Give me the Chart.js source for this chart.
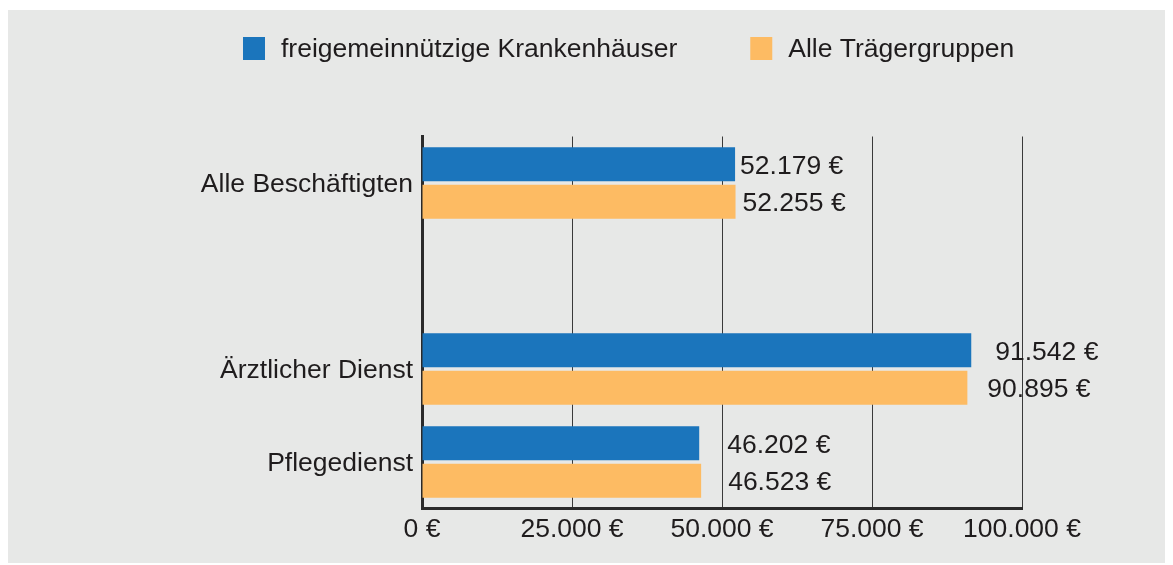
<!DOCTYPE html>
<html lang="de">
<head>
  <meta charset="UTF-8" />
  <title>Durchschnittliche Personalkosten</title>
  <script src="https://cdn.jsdelivr.net/npm/chart.js"></script>
  <style>
    body { margin: 0; background: #fff; }
    #wrap { position: absolute; left: 8px; top: 10px; width: 1157px; height: 553px; background: #e7e8e7; }
  </style>
</head>
<body>
  <div id="wrap">
    <canvas id="chart" width="1157" height="553"></canvas>
  </div>

  <script>
    // Kategorien (leere Kategorie erzeugt die Lücke nach "Alle Beschäftigten")
    const categories = ['Alle Beschäftigten', '', 'Ärztlicher Dienst', 'Pflegedienst'];
    const freigemeinnuetzig = [52179, null, 91542, 46202];
    const alleTraeger = [52255, null, 90895, 46523];
    const xTicks = [0, 25000, 50000, 75000, 100000];

    const textColor = '#1f1c1d';
    const font = 'Liberation Sans, Arial, sans-serif';
    const fontSize = 26.5;

    function euro(v) {
      return String(v).replace(/\B(?=(\d{3})+(?!\d))/g, '.') + ' €';
    }

    // Werte rechts neben den Balken
    const valueLabels = {
      id: 'valueLabels',
      afterDatasetsDraw(chart, args, opts) {
        const ctx = chart.ctx;
        ctx.save();
        ctx.font = fontSize + 'px ' + font;
        ctx.fillStyle = textColor;
        ctx.textAlign = 'left';
        ctx.textBaseline = 'middle';
        chart.data.datasets.forEach((ds, di) => {
          chart.getDatasetMeta(di).data.forEach((bar, i) => {
            const v = ds.data[i];
            if (v == null) return;
            ctx.fillText(euro(v), bar.x + opts.gaps[di][i], bar.y + 2);
          });
        });
        ctx.restore();
      }
    };

    // Legende oben
    const topLegend = {
      id: 'topLegend',
      afterDraw(chart) {
        const ctx = chart.ctx;
        ctx.save();
        ctx.font = fontSize + 'px ' + font;
        ctx.textBaseline = 'middle';
        let x = 235;
        chart.data.datasets.forEach(ds => {
          ctx.fillStyle = ds.backgroundColor;
          ctx.fillRect(x, 27, 22, 23);
          ctx.fillStyle = textColor;
          ctx.fillText(ds.label, x + 38, 40);
          x += 38 + ctx.measureText(ds.label).width + 73;
        });
        ctx.restore();
      }
    };

    new Chart(document.getElementById('chart'), {
      type: 'bar',
      data: {
        labels: categories,
        datasets: [
          { label: 'freigemeinnützige Krankenhäuser', data: freigemeinnuetzig, backgroundColor: '#1b75bc' },
          { label: 'Alle Trägergruppen', data: alleTraeger, backgroundColor: '#fdbb63' }
        ]
      },
      options: {
        indexAxis: 'y',
        responsive: false,
        animation: false,
        categoryPercentage: 0.806,
        barPercentage: 0.907,
        layout: { padding: { top: 126.5, right: 143, left: 0, bottom: 0 } },
        plugins: {
          legend: { display: false },
          tooltip: { enabled: false },
          valueLabels: { gaps: [[5, 0, 24, 28], [7, 0, 20, 27]] }
        },
        scales: {
          x: {
            min: 0,
            max: 100000,
            afterBuildTicks: s => { s.ticks = xTicks.map(v => ({ value: v })); },
            afterFit: s => { s.height = 54.5; },
            grid: { color: '#3a3a3a', lineWidth: 1, drawTicks: false },
            border: { color: '#2a2a2a', width: 3 },
            ticks: {
              color: textColor,
              padding: 5,
              font: { family: font, size: fontSize },
              callback: v => euro(v)
            }
          },
          y: {
            afterFit: s => { s.width = 414; },
            grid: { display: false, drawTicks: false },
            border: { color: '#2a2a2a', width: 3 },
            ticks: {
              color: textColor,
              padding: 9,
              labelOffset: 2,
              autoSkip: false,
              font: { family: font, size: fontSize }
            }
          }
        }
      },
      plugins: [valueLabels, topLegend]
    });
  </script>
</body>
</html>
